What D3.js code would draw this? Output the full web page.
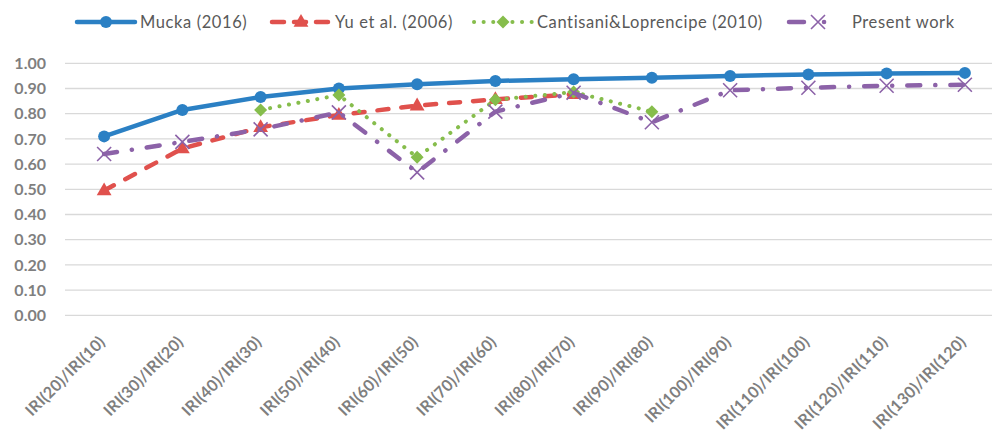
<!DOCTYPE html>
<html>
<head>
<meta charset="utf-8">
<script src="https://cdn.jsdelivr.net/npm/d3@7/dist/d3.min.js"></script>
<style>
    body { margin: 0; background: #fff; }
    svg { display: block; font-family: Lato, "Open Sans", sans-serif; }
</style>
</head>
<body>
<div id="chart"></div>
<script>
    // data
    var categories = ["IRI(20)/IRI(10)", "IRI(30)/IRI(20)", "IRI(40)/IRI(30)", "IRI(50)/IRI(40)",
        "IRI(60)/IRI(50)", "IRI(70)/IRI(60)", "IRI(80)/IRI(70)", "IRI(90)/IRI(80)",
        "IRI(100)/IRI(90)", "IRI(110)/IRI(100)", "IRI(120)/IRI(110)", "IRI(130)/IRI(120)"];
    var mucka = [0.71, 0.815, 0.866, 0.90, 0.917, 0.93, 0.937, 0.943, 0.95, 0.956, 0.96, 0.962];
    var yu = [0.495, 0.662, 0.746, 0.795, 0.832, 0.857, 0.877, null, null, null, null, null];
    var cantisani = [null, null, 0.815, 0.874, 0.627, 0.855, 0.886, 0.808, null, null, null, null];
    var present = [0.64, 0.688, 0.738, 0.805, 0.567, 0.808, 0.883, 0.766, 0.893, 0.903, 0.911, 0.915];
    var yTicks = [0, 0.1, 0.2, 0.3, 0.4, 0.5, 0.6, 0.7, 0.8, 0.9, 1.0];

    var series = [
        { name: "Mucka (2016)", values: mucka, color: "#2b80c4", width: 4.5, dash: null, legendDash: null, marker: "circle" },
        { name: "Yu et al. (2006)", values: yu, color: "#e0514d", width: 4.5, dash: "11,13", legendDash: "12,10", marker: "triangle" },
        { name: "Cantisani&Loprencipe (2010)", values: cantisani, color: "#86bd4c", width: 4, dash: "0.1,9.5", legendDash: "0.1,9.5", marker: "diamond" },
        { name: "Present work", values: present, color: "#8c62a8", width: 4.5, dash: "13,15,0.1,15", legendDash: "15,20,0.1,60", marker: "cross" }
    ];

    var W = 992, H = 433;
    var svg = d3.select("#chart").append("svg").attr("width", W).attr("height", H);

    var x = d3.scaleBand().domain(categories).range([65, 1004]);
    var y = d3.scaleLinear().domain([0, 1]).range([315.3, 63.3]);

    // grid
    svg.append("g").selectAll("line").data(yTicks).join("line")
        .attr("x1", 65).attr("x2", 1004)
        .attr("y1", function(d) { return y(d); }).attr("y2", function(d) { return y(d); })
        .attr("stroke", "#d9d9d9").attr("stroke-width", 1.3);

    // y axis labels
    svg.append("g").selectAll("text").data(yTicks).join("text")
        .attr("x", 46).attr("y", function(d) { return y(d); }).attr("dy", "0.36em")
        .attr("text-anchor", "end")
        .attr("font-size", 16).attr("font-weight", "bold").attr("fill", "#7f7f7f")
        .text(function(d) { return d3.format(".2f")(d); });

    // x axis labels
    svg.append("g").selectAll("text").data(categories).join("text")
        .attr("transform", function(d) { return "translate(" + (x(d) + x.bandwidth() / 2 + 2) + ",343) rotate(-45)"; })
        .attr("text-anchor", "end")
        .attr("font-size", 16).attr("font-weight", "bold").attr("fill", "#7f7f7f")
        .attr("letter-spacing", 0.2)
        .text(function(d) { return d; });

    function cx(i) { return x(categories[i]) + x.bandwidth() / 2; }

    function drawMarker(g, type, px, py, color) {
        if (type === "circle") {
            g.append("circle").attr("cx", px).attr("cy", py).attr("r", 6).attr("fill", color);
        } else if (type === "triangle") {
            g.append("path").attr("d", d3.symbol(d3.symbolTriangle, 95)()).attr("transform", "translate(" + px + "," + (py + 0.5) + ")").attr("fill", color);
        } else if (type === "diamond") {
            g.append("path").attr("d", "M0,-6.5L6.5,0L0,6.5L-6.5,0Z").attr("transform", "translate(" + px + "," + py + ")").attr("fill", color);
        } else {
            g.append("path").attr("d", "M-7,-7L7,7M-7,7L7,-7").attr("transform", "translate(" + px + "," + py + ")")
                .attr("stroke", color).attr("stroke-width", 1.6).attr("fill", "none");
        }
    }

    var line = d3.line()
        .defined(function(d) { return d != null; })
        .x(function(d, i) { return cx(i); })
        .y(function(d) { return y(d); });

    series.forEach(function(s) {
        var g = svg.append("g");
        g.append("path").datum(s.values).attr("d", line)
            .attr("fill", "none").attr("stroke", s.color).attr("stroke-width", s.width)
            .attr("stroke-linecap", "round").attr("stroke-linejoin", "round")
            .attr("stroke-dasharray", s.dash);
        s.values.forEach(function(v, i) {
            if (v != null) drawMarker(g, s.marker, cx(i), y(v), s.color);
        });
    });

    // legend
    var legendX = [77, 272, 474, 789];
    var legend = svg.append("g");
    series.forEach(function(s, i) {
        var lx = legendX[i], ly = 22;
        var g = legend.append("g");
        g.append("line").attr("x1", lx).attr("x2", lx + 58).attr("y1", ly).attr("y2", ly)
            .attr("stroke", s.color).attr("stroke-width", s.width)
            .attr("stroke-linecap", "round").attr("stroke-dasharray", s.legendDash);
        drawMarker(g, s.marker, lx + 29, ly, s.color);
        g.append("text").attr("x", lx + 63).attr("y", ly).attr("dy", "0.36em")
            .attr("font-size", 16.5).attr("fill", "#595959").attr("letter-spacing", 0.6)
            .text(s.name);
    });
</script>
</body>
</html>
